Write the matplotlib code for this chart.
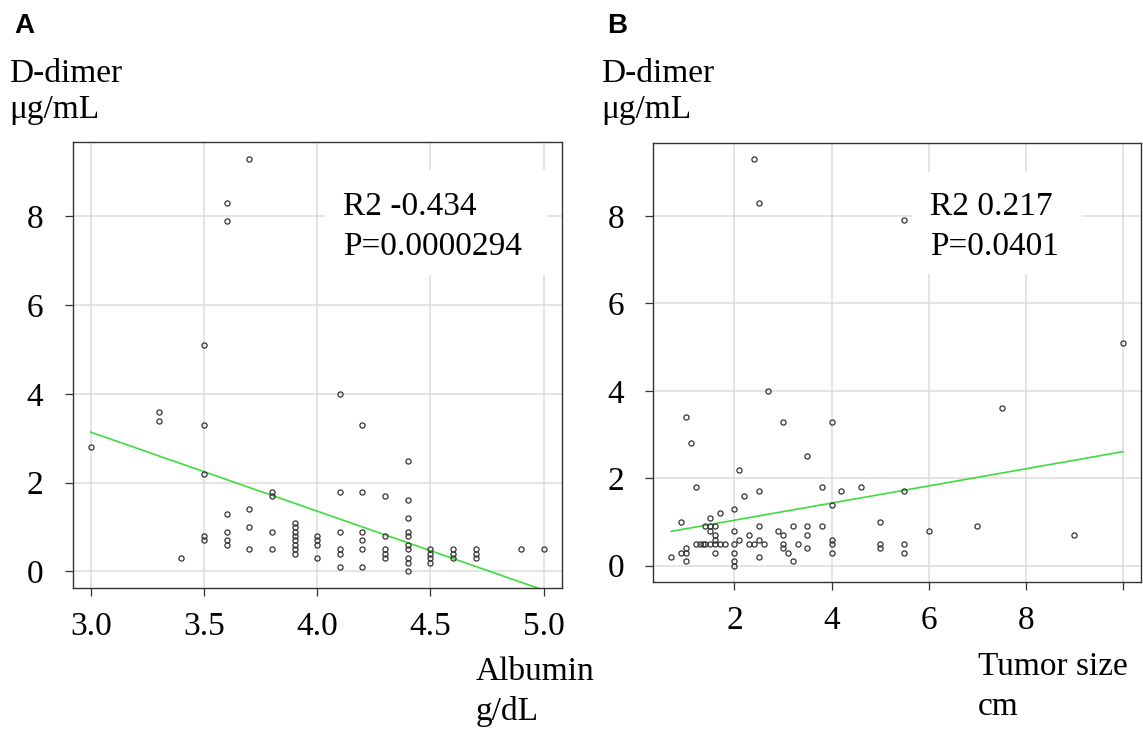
import matplotlib
matplotlib.use("Agg")
import matplotlib.pyplot as plt
from matplotlib.patches import Rectangle

# Panel A: albumin vs D-dimer
albumin = [3.0, 3.3, 3.3, 3.4,
           3.5, 3.5, 3.5, 3.5, 3.5,
           3.6, 3.6, 3.6, 3.6, 3.6, 3.6,
           3.7, 3.7, 3.7, 3.7,
           3.8, 3.8, 3.8, 3.8,
           3.9, 3.9, 3.9, 3.9, 3.9, 3.9, 3.9, 3.9,
           4.0, 4.0, 4.0, 4.0,
           4.1, 4.1, 4.1, 4.1, 4.1, 4.1,
           4.2, 4.2, 4.2, 4.2, 4.2, 4.2,
           4.3, 4.3, 4.3, 4.3, 4.3,
           4.4, 4.4, 4.4, 4.4, 4.4, 4.4, 4.4, 4.4, 4.4, 4.4,
           4.5, 4.5, 4.5, 4.5,
           4.6, 4.6, 4.6,
           4.7, 4.7, 4.7,
           4.9, 5.0]
ddimer_a = [2.8, 3.6, 3.4, 0.3,
            5.1, 3.3, 2.2, 0.8, 0.7,
            8.3, 7.9, 1.3, 0.9, 0.7, 0.6,
            9.3, 1.4, 1.0, 0.5,
            1.8, 1.7, 0.9, 0.5,
            1.1, 1.0, 0.9, 0.8, 0.7, 0.6, 0.5, 0.4,
            0.8, 0.7, 0.6, 0.3,
            4.0, 1.8, 0.9, 0.5, 0.4, 0.1,
            3.3, 1.8, 0.9, 0.7, 0.5, 0.1,
            1.7, 0.8, 0.5, 0.4, 0.3,
            2.5, 1.6, 1.2, 0.9, 0.8, 0.6, 0.5, 0.3, 0.2, 0.0,
            0.5, 0.4, 0.3, 0.2,
            0.5, 0.4, 0.3,
            0.5, 0.4, 0.3,
            0.5, 0.5]

# Panel B: tumor size vs D-dimer
tumor = [0.7, 0.9, 0.9, 1.0, 1.0, 1.0, 1.0, 1.1, 1.2,
         1.2, 1.3, 1.35, 1.4, 1.5, 1.6, 1.7, 1.8,
         1.4, 1.5, 1.6, 1.5, 1.7, 1.5, 1.6, 1.6, 1.6,
         2.0, 2.0, 2.0, 2.0, 2.0, 2.0,
         2.1, 2.2, 2.1, 2.3, 2.3, 2.4, 2.5, 2.5, 2.5, 2.5, 2.6, 2.7, 2.9,
         3.0, 3.0, 3.0, 3.0, 3.1, 3.2, 3.2, 3.3,
         3.5, 3.5, 3.5, 3.5, 3.8, 3.8,
         4.0, 4.0, 4.0, 4.0, 4.0, 4.2, 4.6,
         5.0, 5.0, 5.0, 5.5, 5.5, 5.5, 6.0, 7.0, 7.5, 9.0, 10.0,
         2.4, 2.5, 5.5]
ddimer_b = [0.2, 1.0, 0.3, 3.4, 0.4, 0.3, 0.1, 2.8, 1.8,
            0.5, 0.5, 0.5, 0.5, 0.5, 0.5, 0.5, 0.5,
            0.9, 0.9, 0.9, 1.1, 1.2, 0.8, 0.7, 0.6, 0.3,
            1.3, 0.8, 0.5, 0.3, 0.1, 0.0,
            2.2, 1.6, 0.6, 0.7, 0.5, 0.5, 1.7, 0.9, 0.6, 0.2, 0.5, 4.0, 0.8,
            3.3, 0.7, 0.5, 0.4, 0.3, 0.9, 0.1, 0.5,
            2.5, 0.9, 0.7, 0.4, 1.8, 0.9,
            3.3, 1.4, 0.6, 0.5, 0.3, 1.7, 1.8,
            1.0, 0.5, 0.4, 1.7, 0.5, 0.3, 0.8, 0.9, 3.6, 0.7, 5.1,
            9.3, 8.3, 7.9]

# fitted lines (intercept, slope)
fit_a = (8.48, -1.78)
fit_b = (0.65, 0.196)

ticks_a = [3.0, 3.5, 4.0, 4.5, 5.0]
labels_a = ["3.0", "3.5", "4.0", "4.5", "5.0"]
ticks_b = [2, 4, 6, 8, 10]
labels_b = ["2", "4", "6", "8", ""]   # 10 has a tick but no label

stats_a = ["R2 -0.434", "P=0.0000294"]
stats_b = ["R2 0.217", "P=0.0401"]

W, H = 1143, 737
serif = "Liberation Serif"
fs = 24

fig = plt.figure(figsize=(W / 100, H / 100), dpi=100)


def px_box(l, t, r, b):
    return [l / W, 1 - b / H, (r - l) / W, (b - t) / H]


def panel(rect, x, y, fit, xticks, xlabels, box):
    ax = fig.add_axes(rect)
    ax.set_axisbelow(True)
    ax.grid(True, color="#dcdcdc", lw=1.1)
    ax.plot(x, y, "o", ms=3.7, mfc="none", mec="#333333", mew=0.9, zorder=3)
    x0, x1 = min(x), max(x)
    ax.plot([x0, x1], [fit[0] + fit[1] * x0, fit[0] + fit[1] * x1],
            color="#3fdc3f", lw=1.2, zorder=2)
    pad = 0.04 * (x1 - x0)
    ax.set_xlim(x0 - pad, x1 + pad)
    ax.set_ylim(-0.04 * 9.3, 9.3 * 1.04)
    ax.set_xticks(xticks)
    ax.set_xticklabels(xlabels)
    ax.set_yticks([0, 2, 4, 6, 8])
    for s in ax.spines.values():
        s.set_color("#333333")
        s.set_linewidth(1.0)
    ax.tick_params(axis="both", direction="out", length=6, width=0.9,
                   color="#333333", labelsize=fs)
    ax.tick_params(axis="y", pad=15)
    ax.tick_params(axis="x", pad=11)
    for lab in ax.get_xticklabels() + ax.get_yticklabels():
        lab.set_fontfamily(serif)
    # white legend-like box behind the stats
    ax.add_patch(Rectangle((box[0] / W, 1 - box[3] / H),
                           (box[2] - box[0]) / W, (box[3] - box[1]) / H,
                           transform=fig.transFigure, facecolor="white",
                           edgecolor="none", zorder=1))
    return ax


axA = panel(px_box(72.6, 142.3, 561.8, 588), albumin, ddimer_a, fit_a,
            ticks_a, labels_a, (325, 170, 547, 275))
axB = panel(px_box(653.3, 143, 1141, 582), tumor, ddimer_b, fit_b,
            ticks_b, labels_b, (912, 172, 1082, 274))


def ftext(xp, yp, s, **kw):
    fig.text(xp / W, 1 - yp / H, s, va="baseline", ha="left", **kw)


# stats text
for i, s in enumerate(stats_a):
    ftext(342.7, 215 + 40 * i, s, family=serif, fontsize=fs, zorder=5)
for i, s in enumerate(stats_b):
    ftext(930, 215 + 40 * i, s, family=serif, fontsize=fs, zorder=5)

# panel letters
ftext(14, 33, "A", family="Liberation Sans", fontsize=20, weight="bold")
ftext(607, 33, "B", family="Liberation Sans", fontsize=20, weight="bold")

# y axis titles
for xo in (9, 601):
    ftext(xo, 82, "D-dimer", family=serif, fontsize=fs)
    ftext(xo, 118, "μg/mL", family=serif, fontsize=fs)

# x axis titles
ftext(476, 680, "Albumin", family=serif, fontsize=fs)
ftext(476, 720, "g/dL", family=serif, fontsize=fs)
ftext(978, 675, "Tumor size", family=serif, fontsize=fs)
ftext(978, 715, "cm", family=serif, fontsize=fs)

fig.savefig("out.png", dpi=100)
